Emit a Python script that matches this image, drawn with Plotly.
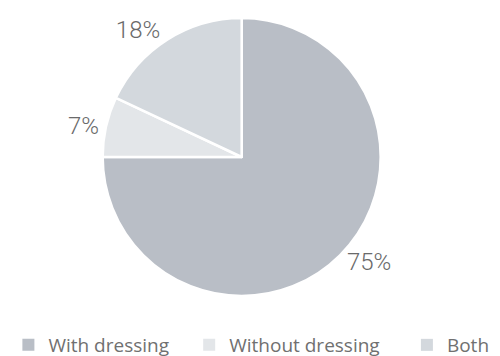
import plotly.graph_objects as go

labels = ["With dressing", "Without dressing", "Both"]
values = [75, 7, 18]
text_labels = ["75%", "7%", "18%"]
colors = ["#b9bec6", "#e3e6e9", "#d3d8dd"]

W, H = 500, 356
cx, cy, r = 226, 148.5, 143
legend_text_x = [37, 223, 447]   # pixel x where each legend entry's text begins
legend_off = 51                  # legend box left -> text start

fig = go.Figure()
fig.add_trace(go.Pie(
    labels=labels,
    values=values,
    text=text_labels,
    textinfo="text",
    textposition="outside",
    sort=False,
    direction="clockwise",
    rotation=0,
    showlegend=False,
    marker=dict(colors=colors, line=dict(color="white", width=2.5)),
    textfont=dict(size=24, color="#6a6a6a", family="Roboto", weight=300),
    domain=dict(x=[(cx - r) / W, (cx + r) / W], y=[1 - (cy + r) / H, 1 - (cy - r) / H]),
    hoverinfo="skip",
))

legend_names = ["legend", "legend2", "legend3"]
for lab, col, lg in zip(labels, colors, legend_names):
    fig.add_trace(go.Scatter(
        x=[None], y=[None], mode="markers", name=lab,
        marker=dict(symbol="square", size=12, color=col),
        legend=lg, showlegend=True, hoverinfo="skip",
    ))

leg_common = dict(
    orientation="h", xanchor="left", yanchor="middle",
    y=1 - 340 / H,
    font=dict(size=19, color="#707070", family="Open Sans"),
    bgcolor="rgba(0,0,0,0)",
)
layout_legends = {}
for lg, tx in zip(legend_names, legend_text_x):
    layout_legends[lg] = dict(x=(tx - legend_off) / W, **leg_common)

fig.update_layout(
    width=W, height=H,
    margin=dict(l=0, r=0, t=0, b=0),
    paper_bgcolor="white",
    plot_bgcolor="white",
    xaxis=dict(visible=False),
    yaxis=dict(visible=False),
    **layout_legends,
)

fig.write_html("out.html")
